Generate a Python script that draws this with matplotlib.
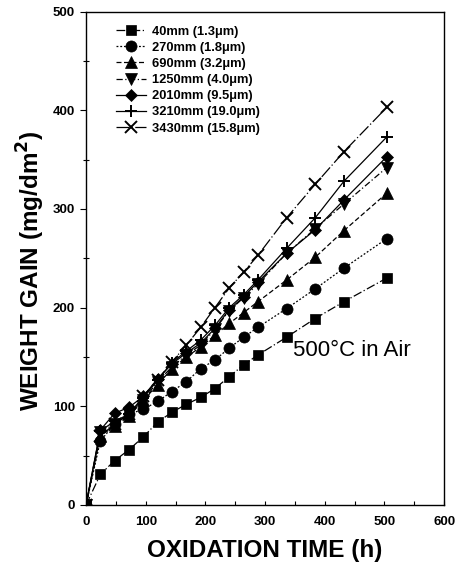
import matplotlib
matplotlib.use("Agg")
import matplotlib.pyplot as plt
from matplotlib.ticker import MultipleLocator

plt.rcParams['font.family'] = ['Liberation Sans', 'DejaVu Sans']

time_h = [0, 24, 48, 72, 96, 120, 144, 168, 192, 216, 240, 264, 288, 336, 384, 432, 504]

labels = ["40mm (1.3\u03bcm)", "270mm (1.8\u03bcm)", "690mm (3.2\u03bcm)", "1250mm (4.0\u03bcm)",
          "2010mm (9.5\u03bcm)", "3210mm (19.0\u03bcm)", "3430mm (15.8\u03bcm)"]

gain_40 = [0, 31, 45, 56, 69, 84, 94, 102, 109, 118, 130, 142, 152, 170, 189, 206, 230]
gain_270 = [0, 65, 82, 92, 97, 105, 115, 125, 138, 147, 159, 170, 180, 199, 219, 240, 270]
gain_690 = [0, 70, 80, 90, 106, 122, 138, 150, 160, 172, 184, 195, 206, 228, 251, 278, 316]
gain_1250 = [0, 74, 82, 92, 106, 125, 140, 152, 162, 178, 197, 210, 224, 255, 280, 305, 342]
gain_2010 = [0, 76, 93, 99, 110, 128, 143, 154, 164, 179, 198, 211, 226, 255, 279, 309, 353]
gain_3210 = [0, 75, 85, 92, 108, 127, 144, 156, 167, 182, 200, 213, 228, 260, 291, 328, 373]
gain_3430 = [0, 70, 82, 92, 110, 127, 145, 162, 180, 200, 220, 236, 253, 291, 325, 358, 403]

series = [gain_40, gain_270, gain_690, gain_1250, gain_2010, gain_3210, gain_3430]
markers = ['s', 'o', '^', 'v', 'D', '+', 'x']
msizes = [7, 8, 8, 8, 6.5, 9, 9]
lstyles = [(0, (7, 2, 1, 2)), (0, (1.5, 1.5)), (0, (4, 2)), (0, (5, 2, 1, 2)), '-', '-', (0, (10, 2, 1, 2))]

fig = plt.figure(figsize=(4.65, 5.69), dpi=100)
ax = fig.add_axes([0.185, 0.1125, 0.77, 0.867])

for y, m, ms, ls, lab in zip(series, markers, msizes, lstyles, labels):
    ax.plot(time_h, y, color='black', marker=m, markersize=ms, linestyle=ls, linewidth=0.9,
            markeredgewidth=1.4 if m in ('+', 'x') else 0.5, label=lab)

ax.set_xlim(0, 600)
ax.set_ylim(0, 500)
ax.xaxis.set_major_locator(MultipleLocator(100))
ax.xaxis.set_minor_locator(MultipleLocator(50))
ax.yaxis.set_major_locator(MultipleLocator(100))
ax.yaxis.set_minor_locator(MultipleLocator(50))
ax.tick_params(axis='x', which='both', direction='in', length=3, width=0.8, labelsize=9.5, pad=8)
ax.tick_params(axis='y', which='major', direction='out', length=4, width=0.8, labelsize=9.5, pad=4)
ax.tick_params(axis='y', which='minor', direction='inout', length=4, width=0.8)
for lab in ax.get_xticklabels() + ax.get_yticklabels():
    lab.set_fontweight('bold')
for s in ax.spines.values():
    s.set_linewidth(1.0)

ax.set_xlabel("OXIDATION TIME (h)", fontsize=17.5, fontweight='bold', labelpad=8)
ax.set_ylabel("WEIGHT GAIN (mg/dm$^\\mathbf{2}$)", fontsize=17.5, fontweight='bold')
ax.yaxis.set_label_coords(-0.11, 0.475)

ax.text(347, 157, "500\u00b0C in Air", fontsize=16, ha='left', va='center')

leg = ax.legend(loc='upper left', bbox_to_anchor=(0.085, 0.972), frameon=False, fontsize=9.3,
                handlelength=2.3, handletextpad=0.45, labelspacing=0.32, borderaxespad=0.0,
                borderpad=0.0)
for t in leg.get_texts():
    t.set_fontweight('bold')

fig.savefig("out.png", dpi=100)
